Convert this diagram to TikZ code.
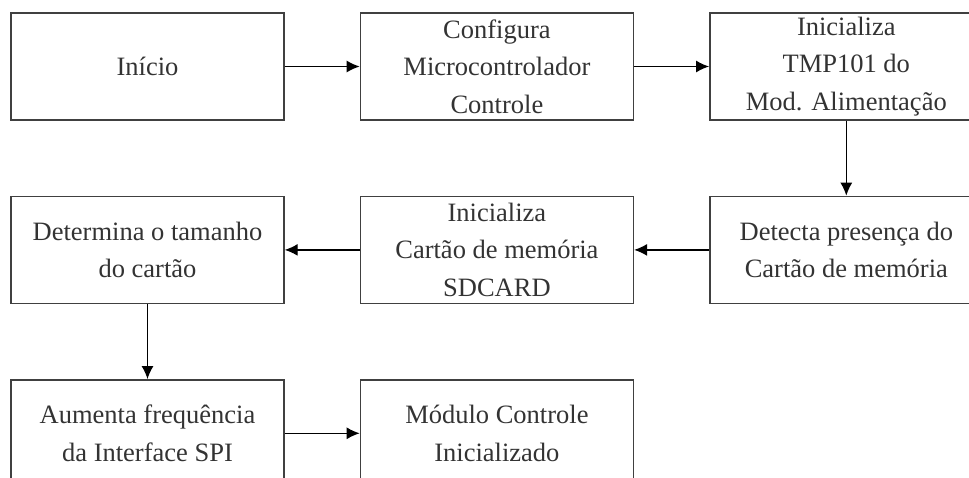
\documentclass[tikz,border=0pt]{standalone}
\usepackage{fontspec}
\setmainfont{Liberation Serif}
\usetikzlibrary{arrows.meta,positioning}
\tikzset{>={Latex[length=13pt,width=12pt]}}

\begin{document}
\begin{tikzpicture}[x=1pt,y=1pt]
	\tikzset{block/.style= {draw=black!75, line width=1.4pt, rectangle, align=center, text=black!80,
			minimum width=273pt, minimum height=107pt, inner sep=2pt,
			font=\fontsize{26.5}{37.5}\selectfont},
		flow/.style={->, line width=1.4pt},
	}
	\clip (0,0) rectangle (969,-478);
	\node [block] (inicio) at (147.5,-66.5) {In\'icio};
	\node [block, right = 75pt of inicio] (config) {Configura\\Microcontrolador\\Controle};
	\node [block, right = 75pt of config] (tmp) {Inicializa\\TMP101 do\\Mod. Alimenta\c{c}\~ao};
	\node [block, below = 75pt of tmp] (detecta) {Detecta presen\c{c}a do\\Cart\~ao de mem\'oria};
	\node [block, below = 75pt of config] (sdcard) {Inicializa\\Cart\~ao de mem\'oria\\SDCARD};
	\node [block, below = 75pt of inicio] (tamanho) {Determina o tamanho\\do cart\~ao};
	\node [block, below = 75pt of tamanho] (freq) {Aumenta frequ\^encia\\da Interface SPI};
	\node [block, right = 75pt of freq] (fim) {M\'odulo Controle\\Inicializado};
	\draw [flow] (inicio) -- (config);
	\draw [flow] (config) -- (tmp);
	\draw [flow] (tmp) -- (detecta);
	\draw [flow] (detecta) -- (sdcard);
	\draw [flow] (sdcard) -- (tamanho);
	\draw [flow] (tamanho) -- (freq);
	\draw [flow] (freq) -- (fim);
\end{tikzpicture}
\end{document}
